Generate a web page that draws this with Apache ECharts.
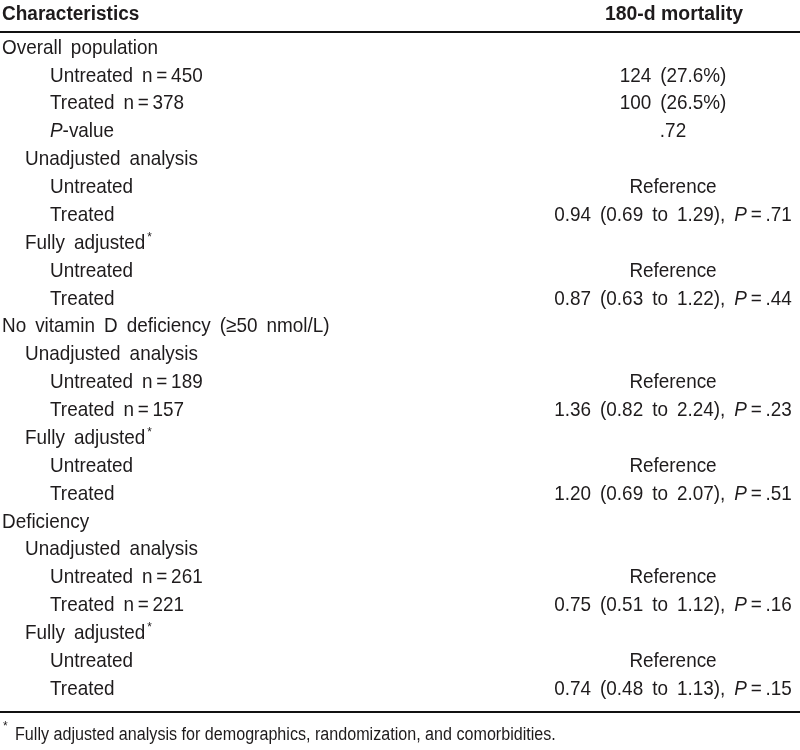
<!DOCTYPE html>
<html><head><meta charset="utf-8">
<script src="https://cdn.jsdelivr.net/npm/echarts@6/dist/echarts.min.js"></script>
<style>html,body{margin:0;padding:0;background:#fff}#c{width:800px;height:750px}</style>
</head><body><div id="c"></div>
<script>
const headers = ['Characteristics', '180-d mortality'];
const rowLabels = [
  'Overall population', 'Untreated n\u2009=\u2009450', 'Treated n\u2009=\u2009378', 'P-value',
  'Unadjusted analysis', 'Untreated', 'Treated',
  'Fully adjusted*', 'Untreated', 'Treated',
  'No vitamin D deficiency (\u226550 nmol/L)',
  'Unadjusted analysis', 'Untreated n\u2009=\u2009189', 'Treated n\u2009=\u2009157',
  'Fully adjusted*', 'Untreated', 'Treated',
  'Deficiency',
  'Unadjusted analysis', 'Untreated n\u2009=\u2009261', 'Treated n\u2009=\u2009221',
  'Fully adjusted*', 'Untreated', 'Treated'
];
const rowLevels = [0,2,2,2, 1,2,2, 1,2,2, 0, 1,2,2, 1,2,2, 0, 1,2,2, 1,2,2];
const mortality = [
  '', '124 (27.6%)', '100 (26.5%)', '.72',
  '', 'Reference', '0.94 (0.69 to 1.29), P\u2009=\u2009.71',
  '', 'Reference', '0.87 (0.63 to 1.22), P\u2009=\u2009.44',
  '',
  '', 'Reference', '1.36 (0.82 to 2.24), P\u2009=\u2009.23',
  '', 'Reference', '1.20 (0.69 to 2.07), P\u2009=\u2009.51',
  '',
  '', 'Reference', '0.75 (0.51 to 1.12), P\u2009=\u2009.16',
  '', 'Reference', '0.74 (0.48 to 1.13), P\u2009=\u2009.15'
];
const footnote = 'Fully adjusted analysis for demographics, randomization, and comorbidities.';

const FONT = "'Liberation Sans',Arial,sans-serif";
const COLOR = '#1e1b1c';
const FS = 21;
const SX = 0.9;
const indentPx = [2, 25, 50];
const valueCenter = 673;

function richify(s) {
  return s.replace(/ /g, '{sp| }')
    .replace(/^P-/, '{i|P}-').replace(/P(?=\u2009?=)/g, '{i|P}').replace(/\*$/, '{sup|*}');
}
const rich = {
  i: {fontStyle: 'italic', fontFamily: FONT, fontSize: FS, lineHeight: 24, fill: COLOR, color: COLOR},
  sp: {fontFamily: FONT, fontSize: 36, lineHeight: 24, fill: COLOR, color: COLOR},
  sup: {fontFamily: FONT, fontSize: 13, lineHeight: 24, fill: COLOR, color: COLOR, padding: [0, 0, 12, 2]}
};

function makeRender(texts, align) {
  return function (params, api) {
    const txt = texts[params.dataIndex];
    if (!txt) return null;
    const pt = api.coord([api.value(0), api.value(1)]);
    return {
      type: 'text', x: pt[0], y: pt[1], scaleX: SX, scaleY: 1,
      style: {
        text: richify(txt), rich: rich, fontFamily: FONT, fontSize: FS, lineHeight: 24, fill: COLOR,
        align: align, verticalAlign: 'middle'
      }
    };
  };
}

const leftData = rowLabels.map((t, i) => [indentPx[rowLevels[i]], i]);
const rightData = mortality.map((t, i) => [valueCenter, i]);

const chart = echarts.init(document.getElementById('c'), null, {renderer: 'canvas'});
chart.setOption({
  backgroundColor: '#fff',
  animation: false,
  grid: {left: 0, right: 0, top: 34, bottom: 47},
  xAxis: {type: 'value', min: 0, max: 800, show: false},
  yAxis: {type: 'category', inverse: true, data: rowLabels.map((_, i) => i), show: false},
  graphic: [
    {type: 'text', x: 2, y: 14, scaleX: 0.95, style: {text: headers[0], font: "bold 20px " + FONT, fill: COLOR, verticalAlign: 'middle'}},
    {type: 'text', x: 674, y: 14, scaleX: 0.97, style: {text: headers[1], font: "bold 20px " + FONT, fill: COLOR, align: 'center', verticalAlign: 'middle'}},
    {type: 'rect', shape: {x: 0, y: 31, width: 800, height: 2}, style: {fill: '#111'}},
    {type: 'rect', shape: {x: 0, y: 711, width: 800, height: 2}, style: {fill: '#111'}},
    {type: 'text', x: 3, y: 721, style: {text: '*', font: "12px " + FONT, fill: COLOR}},
    {type: 'text', x: 15, y: 735, scaleX: 0.895, style: {text: footnote, font: "18px " + FONT, fill: COLOR, verticalAlign: 'middle'}}
  ],
  series: [
    {type: 'custom', coordinateSystem: 'cartesian2d', data: leftData, renderItem: makeRender(rowLabels, 'left')},
    {type: 'custom', coordinateSystem: 'cartesian2d', data: rightData, renderItem: makeRender(mortality, 'center')}
  ]
});
</script></body></html>
